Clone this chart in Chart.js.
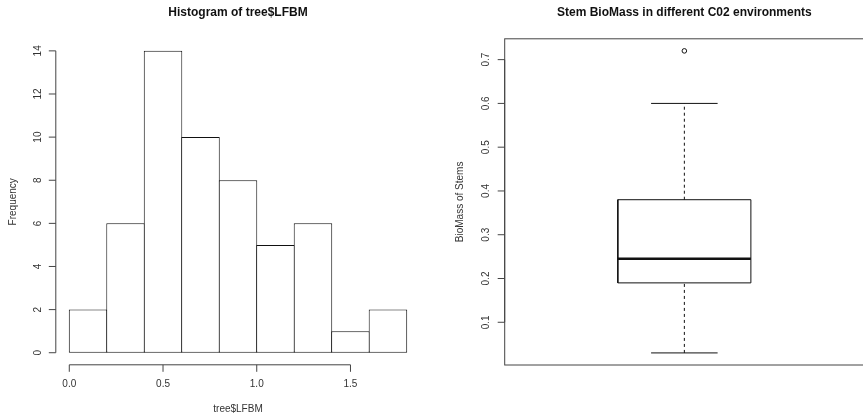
<!DOCTYPE html>
<html>
<head>
<meta charset="utf-8">
<script src="https://cdn.jsdelivr.net/npm/chart.js@4.4.1/dist/chart.umd.min.js"></script>
<style>
  html, body { margin: 0; padding: 0; background: #fff; overflow: hidden; }
  #wrap { position: relative; width: 863px; height: 416px; overflow: hidden; }
  canvas { position: absolute; top: 0; }
  #histChart { left: 0; }
  #boxChart { left: 431px; }
</style>
</head>
<body>
<div id="wrap">
  <canvas id="histChart" width="431" height="416"></canvas>
  <canvas id="boxChart" width="438" height="416"></canvas>
</div>
<script>
// histogram of tree$LFBM
const histBreaks = [0, 0.2, 0.4, 0.6, 0.8, 1.0, 1.2, 1.4, 1.6, 1.8];
const histCounts = [2, 6, 14, 10, 8, 5, 6, 1, 2];
const histXTicks = [0, 0.5, 1.0, 1.5];
const histYTicks = [0, 2, 4, 6, 8, 10, 12, 14];

// boxplot of stem biomass: min whisker, Q1, median, Q3, max whisker
const stemStats = [0.03, 0.19, 0.245, 0.38, 0.60];
const stemOutliers = [0.72];
const stemYTicks = [0.1, 0.2, 0.3, 0.4, 0.5, 0.6, 0.7];

const FONT = "'Liberation Sans', Arial, Helvetica, sans-serif";
const TEXT = '#333';
const AXIS = '#444';

function drawTitle(ctx, area, text) {
    ctx.save();
    ctx.fillStyle = '#111';
    ctx.font = 'bold 12px ' + FONT;
    ctx.textAlign = 'center';
    ctx.textBaseline = 'middle';
    ctx.fillText(text, (area.left + area.right) / 2, 13);
    ctx.restore();
}

function drawYAxis(ctx, chart, ticks, fmt, labelX, title, titleX) {
    var y = chart.scales.y, x0 = chart.chartArea.left;
    var top = y.getPixelForValue(ticks[ticks.length - 1]);
    var bot = y.getPixelForValue(ticks[0]);
    ctx.save();
    ctx.strokeStyle = AXIS;
    ctx.lineWidth = 1;
    ctx.beginPath();
    ctx.moveTo(x0, top); ctx.lineTo(x0, bot);
    ticks.forEach(function(t) {
        var py = y.getPixelForValue(t);
        ctx.moveTo(x0, py); ctx.lineTo(x0 - 7, py);
    });
    ctx.stroke();
    ctx.fillStyle = TEXT;
    ctx.font = '10px ' + FONT;
    ctx.textAlign = 'center';
    ctx.textBaseline = 'middle';
    ticks.forEach(function(t) {
        ctx.save();
        ctx.translate(labelX, y.getPixelForValue(t));
        ctx.rotate(-Math.PI / 2);
        ctx.fillText(fmt(t), 0, 0);
        ctx.restore();
    });
    ctx.save();
    ctx.translate(titleX, (chart.chartArea.top + chart.chartArea.bottom) / 2);
    ctx.rotate(-Math.PI / 2);
    ctx.fillText(title, 0, 0);
    ctx.restore();
    ctx.restore();
}

const histAxes = {
    id: 'histAxes',
    afterDraw: function(chart) {
        var ctx = chart.ctx, area = chart.chartArea, x = chart.scales.x;
        drawTitle(ctx, area, 'Histogram of tree$LFBM');
        drawYAxis(ctx, chart, histYTicks, function(v) { return String(v); }, 38, 'Frequency', 13);
        var y0 = area.bottom;
        var left = x.getPixelForValue(histXTicks[0]);
        var right = x.getPixelForValue(histXTicks[histXTicks.length - 1]);
        ctx.save();
        ctx.strokeStyle = AXIS;
        ctx.lineWidth = 1;
        ctx.beginPath();
        ctx.moveTo(left, y0); ctx.lineTo(right, y0);
        histXTicks.forEach(function(t) {
            var px = x.getPixelForValue(t);
            ctx.moveTo(px, y0); ctx.lineTo(px, y0 + 7);
        });
        ctx.stroke();
        ctx.fillStyle = TEXT;
        ctx.font = '10px ' + FONT;
        ctx.textAlign = 'center';
        ctx.textBaseline = 'middle';
        histXTicks.forEach(function(t) {
            ctx.fillText(t.toFixed(1), x.getPixelForValue(t), 384);
        });
        ctx.fillText('tree$LFBM', (area.left + area.right) / 2, 409);
        ctx.restore();
    }
};

const boxAxes = {
    id: 'boxAxes',
    afterDraw: function(chart) {
        var ctx = chart.ctx, area = chart.chartArea;
        drawTitle(ctx, area, 'Stem BioMass in different C02 environments');
        drawYAxis(ctx, chart, stemYTicks, function(v) { return v.toFixed(1); }, 55, 'BioMass of Stems', 29);
        ctx.save();
        ctx.strokeStyle = AXIS;
        ctx.lineWidth = 1;
        ctx.strokeRect(area.left, area.top, area.right - area.left, area.bottom - area.top);
        ctx.restore();
    }
};

// histogram
var histData = histCounts.map(function(c, i) {
    return { x: (histBreaks[i] + histBreaks[i + 1]) / 2, y: c };
});

new Chart(document.getElementById('histChart'), {
    type: 'bar',
    data: {
        datasets: [{
            data: histData,
            backgroundColor: '#ffffff',
            borderColor: '#111',
            borderWidth: 1,
            borderSkipped: false,
            barPercentage: 1.027,
            categoryPercentage: 1.0
        }]
    },
    options: {
        responsive: false,
        devicePixelRatio: 1,
        animation: false,
        layout: { padding: { left: 55.8, right: 10.8, top: 38.8, bottom: 51.2 } },
        plugins: { legend: { display: false }, title: { display: false }, tooltip: { enabled: false } },
        scales: {
            x: { type: 'linear', offset: false, min: -0.072, max: 1.872, display: false },
            y: { min: -0.56, max: 14.56, display: false }
        }
    },
    plugins: [histAxes]
});

// boxplot built from line segments
var lo = stemStats[0], q1 = stemStats[1], med = stemStats[2], q3 = stemStats[3], hi = stemStats[4];
function seg(points, width, dash) {
    return {
        data: points,
        showLine: true,
        borderColor: '#111',
        borderWidth: width,
        borderDash: dash || [],
        pointRadius: 0,
        fill: false
    };
}

new Chart(document.getElementById('boxChart'), {
    type: 'scatter',
    data: {
        datasets: [
            seg([{ x: 1, y: q3 }, { x: 1, y: hi }], 1, [3, 3]),
            seg([{ x: 1, y: lo }, { x: 1, y: q1 }], 1, [3, 3]),
            seg([{ x: 0.9, y: hi }, { x: 1.1, y: hi }], 1),
            seg([{ x: 0.9, y: lo }, { x: 1.1, y: lo }], 1),
            seg([{ x: 0.8, y: q1 }, { x: 1.2, y: q1 }, { x: 1.2, y: q3 }, { x: 0.8, y: q3 }, { x: 0.8, y: q1 }], 1),
            seg([{ x: 0.8, y: med }, { x: 1.2, y: med }], 2.6),
            {
                data: stemOutliers.map(function(v) { return { x: 1, y: v }; }),
                showLine: false,
                pointRadius: 2.3,
                pointBorderWidth: 1,
                pointBorderColor: '#111',
                pointBackgroundColor: '#ffffff'
            }
        ]
    },
    options: {
        responsive: false,
        devicePixelRatio: 1,
        animation: false,
        layout: { padding: { left: 73.7, right: 0.3, top: 38.8, bottom: 51 } },
        plugins: { legend: { display: false }, title: { display: false }, tooltip: { enabled: false } },
        scales: {
            x: { type: 'linear', min: 0.46, max: 1.54, display: false },
            y: { min: 0.0024, max: 0.7476, display: false }
        }
    },
    plugins: [boxAxes]
});
</script>
</body>
</html>
